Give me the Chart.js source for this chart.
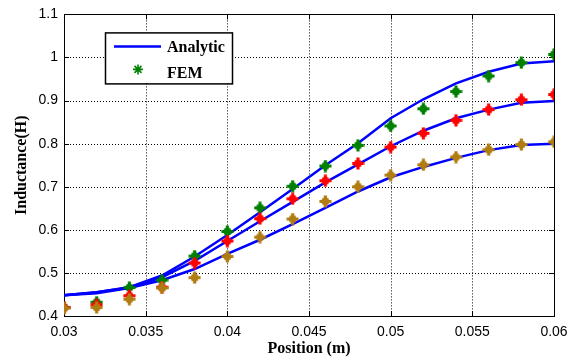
<!DOCTYPE html>
<html>
<head>
<meta charset="utf-8">
<script src="https://cdn.jsdelivr.net/npm/chart.js@4/dist/chart.umd.min.js"></script>
<style>
  html, body { margin: 0; padding: 0; background: #fff; }
  #wrap { width: 577px; height: 362px; }
</style>
</head>
<body>
<div id="wrap"><canvas id="inductChart"></canvas></div>
<script>
// --- datos ---
const posiciones = [0.030, 0.032, 0.034, 0.036, 0.038, 0.040, 0.042, 0.044,
                    0.046, 0.048, 0.050, 0.052, 0.054, 0.056, 0.058, 0.060];

// curvas analíticas
const analitica1 = [0.448, 0.455, 0.467, 0.494, 0.538, 0.588, 0.641, 0.695,
                    0.750, 0.801, 0.859, 0.903, 0.940, 0.967, 0.986, 0.991];
const analitica2 = [0.448, 0.455, 0.466, 0.490, 0.528, 0.574, 0.620, 0.665,
                    0.710, 0.752, 0.794, 0.830, 0.859, 0.879, 0.895, 0.899];
const analitica3 = [0.448, 0.453, 0.465, 0.483, 0.509, 0.544, 0.577, 0.613,
                    0.651, 0.689, 0.722, 0.746, 0.767, 0.785, 0.797, 0.800];

// puntos FEM
const fem1 = [0.420, 0.432, 0.466, 0.483, 0.539, 0.596, 0.651, 0.701,
              0.748, 0.796, 0.841, 0.881, 0.921, 0.957, 0.988, 1.007];
const fem2 = [0.420, 0.426, 0.447, 0.467, 0.523, 0.574, 0.626, 0.672,
              0.714, 0.754, 0.792, 0.824, 0.854, 0.879, 0.902, 0.914];
const fem3 = [0.418, 0.420, 0.439, 0.465, 0.489, 0.538, 0.583, 0.625,
              0.666, 0.700, 0.727, 0.751, 0.769, 0.786, 0.798, 0.804];

const ticksX = [0.03, 0.035, 0.04, 0.045, 0.05, 0.055, 0.06];
const ticksY = [0.4, 0.5, 0.6, 0.7, 0.8, 0.9, 1.0, 1.1];

const AZUL = '#0000ff';
const VERDE = '#008000';
const ROJO = '#ff0000';
const MARRON = '#b07d12';

const aPuntos = arr => arr.map((v, i) => ({ x: posiciones[i], y: v }));

// marcador: cruz gruesa con puntas diagonales cortas
function crearMarcador(color) {
    const c = document.createElement('canvas');
    c.width = 13; c.height = 13;
    const g = c.getContext('2d');
    g.strokeStyle = color;
    g.lineCap = 'butt';
    g.lineWidth = 3.2;
    g.beginPath();
    g.moveTo(0.5, 6.5); g.lineTo(12.5, 6.5);
    g.moveTo(6.5, 0.5); g.lineTo(6.5, 12.5);
    g.stroke();
    g.lineWidth = 2;
    g.beginPath();
    g.moveTo(3.5, 3.5); g.lineTo(9.5, 9.5);
    g.moveTo(3.5, 9.5); g.lineTo(9.5, 3.5);
    g.stroke();
    return c;
}

function lineaAnalitica(valores) {
    return {
        label: 'Analytic',
        data: aPuntos(valores),
        showLine: true,
        borderColor: AZUL,
        borderWidth: 2.5,
        pointRadius: 0,
        tension: 0,
        order: 4
    };
}

function puntosFEM(valores, color, orden) {
    return {
        label: 'FEM',
        data: aPuntos(valores),
        showLine: false,
        pointStyle: crearMarcador(color),
        pointRadius: 6,
        borderColor: color,
        backgroundColor: color,
        order: orden
    };
}

const fmt = v => String(Number(v.toFixed(3)));

// rejilla punteada, marcas interiores y marco estilo MATLAB
const marcoPlugin = {
    id: 'marco',
    beforeDatasetsDraw(chart) {
        const { ctx, chartArea: a, scales } = chart;
        ctx.save();
        ctx.strokeStyle = '#000';
        ctx.lineWidth = 1;
        ctx.setLineDash([1, 2]);
        ticksX.forEach(t => {
            const px = Math.round(scales.x.getPixelForValue(t)) + 0.5;
            if (px <= a.left + 1 || px >= a.right - 1) return;
            ctx.beginPath(); ctx.moveTo(px, a.top); ctx.lineTo(px, a.bottom); ctx.stroke();
        });
        ticksY.forEach(t => {
            const py = Math.round(scales.y.getPixelForValue(t)) + 0.5;
            if (py <= a.top + 1 || py >= a.bottom - 1) return;
            ctx.beginPath(); ctx.moveTo(a.left, py); ctx.lineTo(a.right, py); ctx.stroke();
        });
        ctx.setLineDash([]);
        const L = 5;
        ticksX.forEach(t => {
            const px = Math.round(scales.x.getPixelForValue(t)) + 0.5;
            ctx.beginPath();
            ctx.moveTo(px, a.bottom); ctx.lineTo(px, a.bottom - L);
            ctx.moveTo(px, a.top); ctx.lineTo(px, a.top + L);
            ctx.stroke();
        });
        ticksY.forEach(t => {
            const py = Math.round(scales.y.getPixelForValue(t)) + 0.5;
            ctx.beginPath();
            ctx.moveTo(a.left, py); ctx.lineTo(a.left + L, py);
            ctx.moveTo(a.right, py); ctx.lineTo(a.right - L, py);
            ctx.stroke();
        });
        ctx.strokeRect(Math.round(a.left) + 0.5, Math.round(a.top) + 0.5,
                       Math.round(a.right - a.left), Math.round(a.bottom - a.top));
        ctx.restore();
    },
    afterDraw(chart) {
        // leyenda dentro del área del gráfico
        const { ctx, chartArea: a } = chart;
        const bx = a.left + 41, by = a.top + 18, bw = 127, bh = 51;
        ctx.save();
        ctx.fillStyle = '#fff';
        ctx.fillRect(bx, by, bw, bh);
        ctx.strokeStyle = '#000';
        ctx.lineWidth = 1.5;
        ctx.strokeRect(bx + 0.5, by + 0.5, bw, bh);

        ctx.strokeStyle = AZUL;
        ctx.lineWidth = 2.5;
        ctx.beginPath();
        ctx.moveTo(bx + 9, by + 14); ctx.lineTo(bx + 56, by + 14);
        ctx.stroke();

        const cx = bx + 33, cy = by + 37, r = 5;
        ctx.strokeStyle = VERDE;
        ctx.lineWidth = 1.6;
        ctx.beginPath();
        ctx.moveTo(cx - r, cy); ctx.lineTo(cx + r, cy);
        ctx.moveTo(cx, cy - r); ctx.lineTo(cx, cy + r);
        const d = r * 0.7;
        ctx.moveTo(cx - d, cy - d); ctx.lineTo(cx + d, cy + d);
        ctx.moveTo(cx - d, cy + d); ctx.lineTo(cx + d, cy - d);
        ctx.stroke();

        ctx.fillStyle = '#000';
        ctx.font = 'bold 16px "Liberation Serif", "Times New Roman", serif';
        ctx.textBaseline = 'middle';
        ctx.textAlign = 'left';
        ctx.fillText('Analytic', bx + 62, by + 15);
        ctx.fillText('FEM', bx + 62, by + 41);
        ctx.restore();
    }
};

const ctx = document.getElementById('inductChart').getContext('2d');
const inductChart = new Chart(ctx, {
    type: 'scatter',
    data: {
        datasets: [
            lineaAnalitica(analitica1),
            lineaAnalitica(analitica2),
            lineaAnalitica(analitica3),
            puntosFEM(fem1, VERDE, 3),
            puntosFEM(fem2, ROJO, 2),
            puntosFEM(fem3, MARRON, 1)
        ]
    },
    options: {
        responsive: true,
        maintainAspectRatio: false,
        animation: false,
        layout: { padding: { top: 10, right: 23, left: 0, bottom: 0 } },
        scales: {
            x: {
                type: 'linear',
                min: 0.03,
                max: 0.06,
                afterFit: s => { s.height = 46; },
                afterBuildTicks: s => { s.ticks = ticksX.map(v => ({ value: v })); },
                grid: { display: false, drawTicks: false },
                border: { display: false },
                ticks: {
                    color: '#000',
                    padding: 8,
                    maxRotation: 0,
                    font: { family: '"Liberation Sans", Arial, sans-serif', size: 14 },
                    callback: v => fmt(v)
                },
                title: {
                    display: true,
                    text: 'Position (m)',
                    color: '#000',
                    padding: { top: 0, bottom: 4 },
                    font: { family: '"Liberation Serif", "Times New Roman", serif', size: 16, weight: 'bold' }
                }
            },
            y: {
                type: 'linear',
                min: 0.4,
                max: 1.1,
                afterFit: s => { s.width = 64; },
                afterBuildTicks: s => { s.ticks = ticksY.map(v => ({ value: v })); },
                grid: { display: false, drawTicks: false },
                border: { display: false },
                ticks: {
                    color: '#000',
                    padding: 6,
                    font: { family: '"Liberation Sans", Arial, sans-serif', size: 14 },
                    callback: v => fmt(v)
                },
                title: {
                    display: true,
                    text: 'Inductance(H)',
                    color: '#000',
                    padding: { top: 12, bottom: 0 },
                    font: { family: '"Liberation Serif", "Times New Roman", serif', size: 16, weight: 'bold' }
                }
            }
        },
        plugins: {
            legend: { display: false },
            tooltip: { enabled: false }
        }
    },
    plugins: [marcoPlugin]
});
</script>
</body>
</html>
